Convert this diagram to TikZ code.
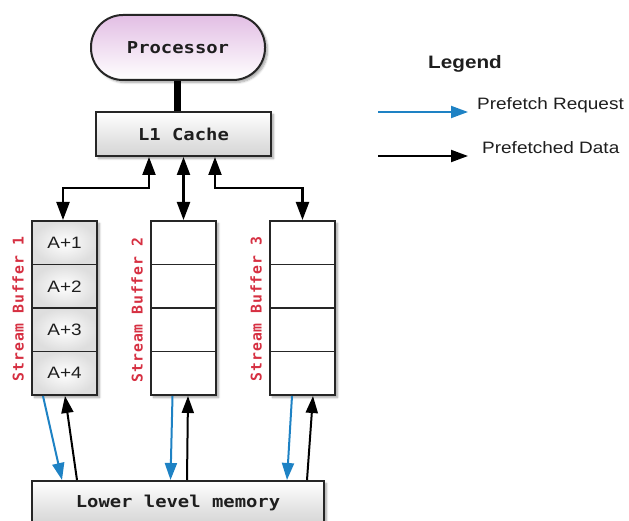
\documentclass[tikz,border=0pt]{standalone}
\usepackage{fontspec}
\setmainfont{Liberation Sans}[FakeStretch=1.15]
\newfontfamily\monof{DejaVu Sans Mono}[FakeStretch=1.15]
\newfontfamily\monolab{DejaVu Sans Mono}[LetterSpace=6]
\usetikzlibrary{arrows.meta,shadows.blur,calc}
\definecolor{procpink}{RGB}{226,190,228}
\definecolor{labred}{RGB}{214,48,66}
\definecolor{reqblue}{RGB}{30,130,196}
\definecolor{txt}{RGB}{30,30,30}
\begin{document}
\begin{tikzpicture}[x=1pt,y=-1pt,
  shad/.style={blur shadow={shadow xshift=2.5pt,shadow yshift=-2.5pt,shadow blur steps=6,shadow opacity=35}},
  monotext/.style={font=\monof\bfseries\fontsize{16.4}{18}\selectfont,text=txt},
  proc/.style={draw=black!85,line width=2pt,rounded corners=32pt,minimum width=174pt,minimum height=65pt,
    top color=procpink,bottom color=white,shad,monotext},
  graybox/.style={draw=black!85,line width=2pt,minimum height=44pt,inner sep=0pt,
    top color=white,bottom color=black!17,shad,monotext},
  buffer/.style={draw=black!85,line width=2pt,fill=white,minimum width=65pt,minimum height=174pt,inner sep=0pt,shad},
  cell/.style={draw=black!85,line width=1.6pt,minimum width=65pt,minimum height=43.5pt,inner sep=0pt},
  shcell/.style={cell,inner color=white,outer color=black!13,
    font=\fontsize{16.5}{18}\selectfont,text=txt},
  sblabel/.style={rotate=90,text=labred,font=\monolab\bfseries\fontsize{14.8}{16}\selectfont},
  bigtip/.tip={Triangle[length=18pt,width=13pt]},
  midtip/.tip={Triangle[length=17pt,width=12pt]},
  dbl/.style={draw=black,line width=2.2pt,bigtip-bigtip},
  req/.style={draw=reqblue,line width=2pt,-midtip},
  dat/.style={draw=black,line width=2pt,-midtip},
  legtext/.style={font=\fontsize{16.5}{18}\selectfont,text=txt,anchor=west,inner sep=0pt}
]
\useasboundingbox (0,0) rectangle (629,521);

% processor and L1
\node[proc] (proc) at (178,47.5) {Processor};
\node[graybox,minimum width=175pt] (l1) at (183.5,134) {L1 Cache};
\draw[line width=7pt] (proc.south -| 177,0) -- (l1.north -| 177,0);

% stream buffers
\node[buffer] (sb1) at (64.5,308) {};
\node[buffer] (sb2) at (183.5,308) {};
\node[buffer] (sb3) at (302.5,308) {};
\foreach \k/\t in {1/A+1,2/A+2,3/A+3,4/A+4}{
  \node[shcell] (c1\k) at (64.5,199.25+43.5*\k) {\t};
}
\foreach \b/\x in {2/183.5,3/302.5}{
  \foreach \k in {1,2,3,4}{
    \node[cell] (c\b\k) at (\x,199.25+43.5*\k) {};
  }
}
\node[sblabel] (l1lab) at (18,309) {Stream Buffer 1};
\node[sblabel] (l2lab) at (137,310) {Stream Buffer 2};
\node[sblabel] (l3lab) at (256,309) {Stream Buffer 3};

% lower memory
\node[graybox,minimum width=292pt] (mem) at (178,503) {Lower level memory};

% L1 <-> buffers
\draw[dbl] ([xshift=-1.5pt]sb1.north) -- ++(0,-32) -| ([xshift=-34.5pt]l1.south);
\draw[dbl] (sb2.north) -- (l1.south);
\draw[dbl] (sb3.north) -- ++(0,-32) -| ([xshift=31.5pt]l1.south);

% buffers <-> memory
\coordinate (r1s) at ([xshift=-21.5pt]sb1.south);
\coordinate (r1e) at ($(mem.north west)+(31,0)$);
\coordinate (d1s) at ($(mem.north west)+(46,0)$);
\coordinate (d1e) at ([xshift=0.5pt]sb1.south);
\coordinate (r2s) at ([xshift=-11pt]sb2.south);
\coordinate (r2e) at ($(mem.north west)+(139.5,0)$);
\coordinate (d2s) at ($(mem.north west)+(156,0)$);
\coordinate (d2e) at ([xshift=4.5pt]sb2.south);
\coordinate (r3s) at ([xshift=-10.5pt]sb3.south);
\coordinate (r3e) at ($(mem.north west)+(256,0)$);
\coordinate (d3s) at ($(mem.north west)+(276,0)$);
\coordinate (d3e) at ([xshift=10.5pt]sb3.south);
\draw[req] (r1s) -- (r1e);
\draw[dat] (d1s) -- (d1e);
\draw[req] (r2s) -- (r2e);
\draw[dat] (d2s) -- (d2e);
\draw[req] (r3s) -- (r3e);
\draw[dat] (d3s) -- (d3e);

% legend
\node[font=\bfseries\fontsize{18}{20}\selectfont,text=txt] (leg) at (465,64) {Legend};
\coordinate (lr1) at (378,112);
\coordinate (lr2) at (468,112);
\coordinate (ld1) at (378,156);
\coordinate (ld2) at (468,156);
\draw[req] (lr1) -- (lr2);
\draw[dat] (ld1) -- (ld2);
\node[legtext] (lt1) at (477,105) {Prefetch Request};
\node[legtext] (lt2) at (482,148) {Prefetched Data};
\end{tikzpicture}
\end{document}
